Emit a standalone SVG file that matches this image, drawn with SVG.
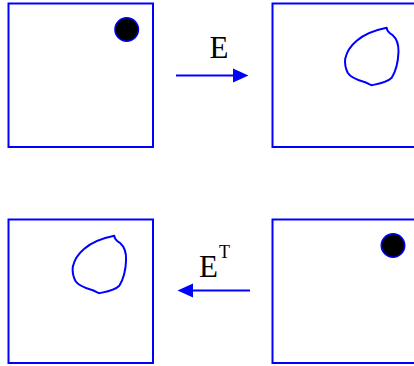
<svg xmlns="http://www.w3.org/2000/svg" width="414" height="366" viewBox="0 0 414 366">
<style>
.box{fill:none;stroke:#0000ff;stroke-width:2}
.dot{fill:#000;stroke:#0000ff;stroke-width:1.6}
.blob{fill:none;stroke:#0000ff;stroke-width:2;stroke-linejoin:round}
.conn{stroke:#0000ff;stroke-width:2;fill:none}
.head{fill:#0000ff}
.lbl{font-family:"Liberation Serif","Times New Roman",serif;fill:#000}
.sup{font-size:18px}
</style>
<defs>
<path id="blobshape" d="M0,0 C0,3 2,5 6,7.5 C10,11 12,16 11.8,24 C11.5,33 10,42 5,50 C0,55 -8,56 -15,57.5 C-18,57 -19,55 -23,54 C-30,52 -36,50 -39,45 C-41,41 -42,35 -41.5,31 C-40,24 -36,18 -30,13 C-22,6 -10,2 0,0 Z"/>
</defs>
<rect width="414" height="366" fill="#fff"/>
<g id="node-tl">
<rect class="box" x="8.5" y="3.5" width="144.5" height="143.5"/>
<circle class="dot" cx="126.7" cy="29.5" r="11.7"/>
</g>
<g id="node-tr">
<rect class="box" x="272.5" y="3.5" width="144.5" height="143.5"/>
<use href="#blobshape" class="blob" transform="translate(386.7,27.7)"/>
</g>
<g id="node-bl">
<rect class="box" x="8.5" y="219.5" width="144.5" height="143.5"/>
<use href="#blobshape" class="blob" transform="translate(114.3,235.7)"/>
</g>
<g id="node-br">
<rect class="box" x="272.5" y="219.5" width="144.5" height="143.5"/>
<circle class="dot" cx="393" cy="245.5" r="11.7"/>
</g>
<g id="connectors">
<line class="conn" x1="176" y1="75.5" x2="234" y2="75.5"/>
<polygon class="head" points="233,68.5 248.5,75.5 233,82.5"/>
<line class="conn" x1="250" y1="290.5" x2="192" y2="290.5"/>
<polygon class="head" points="193,283.5 177.5,290.5 193,297.5"/>
<text class="lbl" x="219" y="57.8" font-size="31" text-anchor="middle">E</text>
<text class="lbl" x="199" y="276.7" font-size="31">E</text>
<text class="lbl sup" x="219" y="258">T</text>
</g>
</svg>
